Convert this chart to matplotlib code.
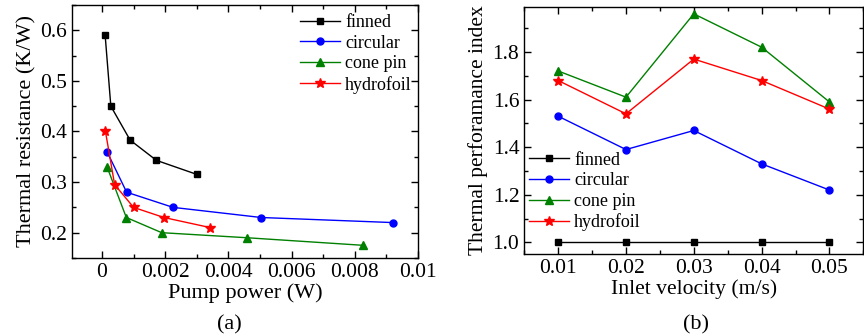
import matplotlib.pyplot as plt
from matplotlib.ticker import MultipleLocator

plt.rcParams['font.family'] = ['Liberation Serif', 'DejaVu Serif']
plt.rcParams['mathtext.fontset'] = 'stix'

names = ['finned', 'circular', 'cone pin', 'hydrofoil']
colors = ['black', 'blue', 'green', 'red']
markers = ['s', 'o', '^', '*']
msizes = [4, 5, 5.5, 7]

# (a) thermal resistance vs pump power
pump_finned = [0.0001, 0.00028, 0.00089, 0.00172, 0.00301]
res_finned = [0.59, 0.45, 0.383, 0.343, 0.315]
pump_circ = [0.00016, 0.00078, 0.00225, 0.00504, 0.0092]
res_circ = [0.36, 0.28, 0.25, 0.23, 0.22]
pump_cone = [0.00016, 0.00077, 0.00189, 0.00459, 0.00827]
res_cone = [0.33, 0.23, 0.20, 0.19, 0.175]
pump_hydro = [0.00011, 0.0004, 0.001, 0.00196, 0.00343]
res_hydro = [0.40, 0.295, 0.25, 0.23, 0.21]

# (b) thermal performance index vs inlet velocity
velocity = [0.01, 0.02, 0.03, 0.04, 0.05]
tpi_finned = [1.0, 1.0, 1.0, 1.0, 1.0]
tpi_circ = [1.53, 1.39, 1.47, 1.33, 1.22]
tpi_cone = [1.72, 1.61, 1.96, 1.82, 1.59]
tpi_hydro = [1.68, 1.54, 1.77, 1.68, 1.56]

fig = plt.figure(figsize=(8.64, 3.35), dpi=100)
ax1 = fig.add_axes([0.0833, 0.2299, 0.4005, 0.7552])
ax2 = fig.add_axes([0.6068, 0.2409, 0.3924, 0.7391])

xa = [pump_finned, pump_circ, pump_cone, pump_hydro]
ya = [res_finned, res_circ, res_cone, res_hydro]
for i in range(4):
    ax1.plot(xa[i], ya[i], color=colors[i], marker=markers[i], ms=msizes[i],
             lw=1, label=names[i])

yb = [tpi_finned, tpi_circ, tpi_cone, tpi_hydro]
for i in range(4):
    ax2.plot(velocity, yb[i], color=colors[i], marker=markers[i], ms=msizes[i],
             lw=1, label=names[i])

ax1.set_xlim(-0.00095, 0.01)
ax1.set_ylim(0.15, 0.65)
ax1.xaxis.set_minor_locator(MultipleLocator(0.001))
ax1.yaxis.set_major_locator(MultipleLocator(0.1))
ax1.yaxis.set_minor_locator(MultipleLocator(0.05))
ax1.set_xticks([0, 0.002, 0.004, 0.006, 0.008, 0.01])
ax1.set_xticklabels(['0', '0.002', '0.004', '0.006', '0.008', '0.01'])
ax1.set_xlabel('Pump power (W)', fontsize=16, labelpad=1)
ax1.set_ylabel('Thermal resistance (K/W)', fontsize=16, labelpad=3)

ax2.set_xlim(0.005, 0.055)
ax2.set_ylim(0.95, 1.99)
ax2.xaxis.set_minor_locator(MultipleLocator(0.005))
ax2.yaxis.set_major_locator(MultipleLocator(0.2))
ax2.yaxis.set_minor_locator(MultipleLocator(0.1))
ax2.set_xticks(velocity)
ax2.set_xticklabels(['0.01', '0.02', '0.03', '0.04', '0.05'])
ax2.set_xlabel('Inlet velocity (m/s)', fontsize=15.6, labelpad=1)
ax2.set_ylabel('Thermal perforamance index', fontsize=15.5, labelpad=3)

for ax in (ax1, ax2):
    ax.tick_params(which='both', direction='in', top=True, right=True,
                   labelsize=15.5, width=1)
    ax.tick_params(which='major', length=5)
    ax.tick_params(which='minor', length=3)
    for s in ax.spines.values():
        s.set_linewidth(1)

ax1.legend(loc='upper right', bbox_to_anchor=(1.008, 1.0), frameon=False,
           fontsize=13, handlelength=2.2, handletextpad=0.3, labelspacing=0.2,
           borderaxespad=0.1)
ax2.legend(loc='upper left', bbox_to_anchor=(-0.013, 0.451), frameon=False,
           fontsize=13, handlelength=2.2, handletextpad=0.3, labelspacing=0.2,
           borderaxespad=0.1)

fig.text(0.266, 0.015, '(a)', fontsize=16, ha='center')
fig.text(0.805, 0.015, '(b)', fontsize=16, ha='center')

fig.savefig('out.png', dpi=100)
